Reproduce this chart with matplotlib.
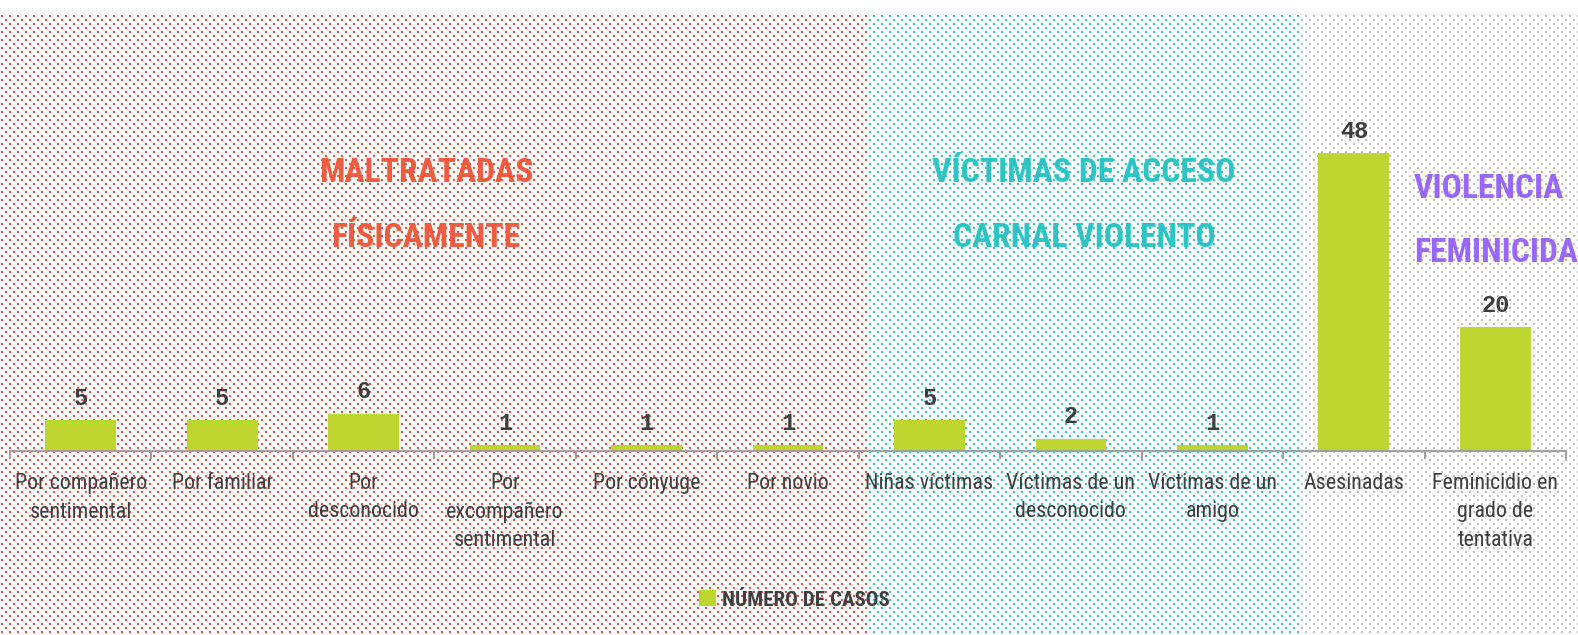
import numpy as np
import matplotlib.pyplot as plt
from matplotlib import font_manager as fm

# datos
categorias = ["Por compañero\nsentimental", "Por familiar", "Por\ndesconocido",
              "Por\nexcompañero\nsentimental", "Por cónyuge", "Por novio",
              "Niñas víctimas", "Víctimas de un\ndesconocido", "Víctimas de un\namigo",
              "Asesinadas", "Feminicidio en\ngrado de\ntentativa"]
casos = [5, 5, 6, 1, 1, 1, 5, 2, 1, 48, 20]

titulo_maltrato = ["MALTRATADAS", "FÍSICAMENTE"]
titulo_acceso = ["VÍCTIMAS DE ACCESO", "CARNAL VIOLENTO"]
titulo_feminicida = ["VIOLENCIA", "FEMINICIDA"]
leyenda = "NÚMERO DE CASOS"

W, H = 1578, 635


def first_font(names):
    for n in names:
        try:
            fm.findfont(fm.FontProperties(family=n), fallback_to_default=False)
            return n
        except ValueError:
            pass
    return 'DejaVu Sans'


narrow = first_font(['Roboto Condensed', 'Liberation Sans Narrow', 'Open Sans Condensed',
                     'Noto Sans Condensed', 'DejaVu Sans Condensed'])
NARROW = dict(family=[narrow, 'DejaVu Sans'], stretch='condensed')
MONO = ['Liberation Mono', 'DejaVu Sans Mono']

verde = '#BED630'
rojo_pt = np.array([240, 78, 58]) / 255
teal_pt = np.array([44, 200, 200]) / 255
gris_pt = np.array([190, 190, 190]) / 255

# fondo punteado
img = np.ones((H, W, 3))
for k, y in enumerate(range(15, H, 4)):
    x0 = 1 + 4 * (k % 2)
    for x in range(x0, W, 8):
        if x < 869:
            c = rojo_pt
        elif x < 1299:
            c = teal_pt
        else:
            c = gris_pt
        img[y:y + 2, x:x + 2] = c

fig = plt.figure(figsize=(W / 100, H / 100), dpi=100)
renderer = fig.canvas.get_renderer()


def fit_size(text, target_px, weight='normal'):
    t = fig.text(0, 0, text, fontsize=10, fontweight=weight, **NARROW)
    w = t.get_window_extent(renderer).width
    t.remove()
    return 10 * target_px / w


bg = fig.add_axes([0, 0, 1, 1])
bg.imshow(img, extent=(0, W, H, 0), aspect='auto', interpolation='nearest')
bg.set_xlim(0, W)
bg.set_ylim(H, 0)
bg.axis('off')

ax = fig.add_axes([10 / W, (H - 451) / H, 1556 / W, 437 / H])
ax.set_facecolor('none')
x = np.arange(len(casos))
ax.bar(x, casos, width=0.5, color=verde, zorder=2)
ax.set_xlim(-0.5, len(casos) - 0.5)
ax.set_ylim(0, 70.4)

for s in ['top', 'right', 'left']:
    ax.spines[s].set_visible(False)
ax.spines['bottom'].set_color('#A0A0A0')
ax.spines['bottom'].set_linewidth(1.5)
ax.set_yticks([])
ax.set_xticks(x)
lab_size = min(fit_size("Víctimas de un", 128), 18)
ax.set_xticklabels(categorias, fontsize=lab_size, color='#3f3f3f', linespacing=1.45, **NARROW)
ax.tick_params(axis='x', which='major', length=0, pad=16)
ax.set_xticks(np.arange(-0.5, len(casos)), minor=True)
ax.tick_params(axis='x', which='minor', length=6, width=1.5, color='#A0A0A0')

for i, v in enumerate(casos):
    ax.annotate(str(v), (i, v), xytext=(0, 11), textcoords='offset points',
                ha='center', va='baseline', fontfamily=MONO, fontweight='bold',
                fontsize=17, color='#3d3d3d')

tit_size = min(fit_size("MALTRATADAS", 214, 'bold'), 28)
tkw = dict(fontweight='bold', fontsize=tit_size, va='baseline', **NARROW)
for txt, yb in zip(titulo_maltrato, [182, 247]):
    bg.text(426, yb, txt, ha='center', color='#F15B40', **tkw)
for txt, yb in zip(titulo_acceso, [182, 247]):
    bg.text(1084, yb, txt, ha='center', color='#2EC4C6', **tkw)
for txt, yb in zip(titulo_feminicida, [198, 262]):
    bg.text(1414, yb, txt, ha='left', color='#9966FF', **tkw)

leg_size = min(fit_size(leyenda, 166, 'bold'), 16)
ax.bar([0], [0], color=verde, label=leyenda)
leg = ax.legend(loc='center', bbox_to_anchor=(0.5035, 0.055), bbox_transform=fig.transFigure,
                frameon=False, handlelength=0.8, handleheight=0.8, handletextpad=0.3,
                prop=dict(weight='bold', size=leg_size, **NARROW))
for t in leg.get_texts():
    t.set_color('#404040')

fig.savefig('out.png', dpi=100)
